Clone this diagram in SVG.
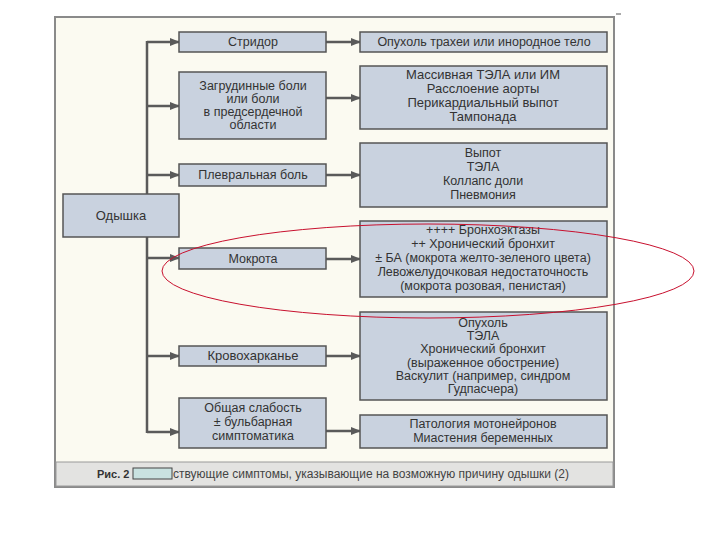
<svg xmlns="http://www.w3.org/2000/svg" width="720" height="540" viewBox="0 0 720 540">
<defs>
<marker id="ah" viewBox="0 0 10 10" refX="9" refY="5" markerWidth="4" markerHeight="4" orient="auto" markerUnits="strokeWidth">
<path d="M0,1 L10,5 L0,9 z" fill="#5a5a5a"/>
</marker>
</defs>
<style>
.box{fill:#c9d2df;stroke:#555;stroke-width:1.5}
.t{font-family:"Liberation Sans",Arial,sans-serif;font-size:12.5px;fill:#333;text-anchor:middle}
.b{font-size:13px}
.c{stroke:#5a5a5a;stroke-width:2.5;fill:none}
.a{stroke:#5a5a5a;stroke-width:2.5;fill:none;marker-end:url(#ah)}
</style>
<rect width="720" height="540" fill="#ffffff"/>
<rect x="55" y="17" width="559" height="470" fill="#fbfaf1" stroke="#8a8a8a" stroke-width="2"/>
<rect x="56" y="462" width="557" height="24" fill="#e3e3e1" stroke="#9a9a9a" stroke-width="1"/>
<line x1="616" y1="14" x2="621" y2="14" stroke="#555" stroke-width="1"/>

<g id="connectors">
<line class="c" x1="147" y1="41" x2="147" y2="433"/>
<line class="a" x1="147" y1="42" x2="179" y2="42"/>
<line class="a" x1="147" y1="106" x2="179" y2="106"/>
<line class="a" x1="147" y1="175" x2="179" y2="175"/>
<line class="a" x1="147" y1="258" x2="179" y2="258"/>
<line class="a" x1="147" y1="356" x2="179" y2="356"/>
<line class="a" x1="147" y1="432" x2="179" y2="432"/>
<line class="a" x1="326" y1="42" x2="360" y2="42"/>
<line class="a" x1="326" y1="98" x2="360" y2="98"/>
<line class="a" x1="326" y1="175" x2="360" y2="175"/>
<line class="a" x1="326" y1="259" x2="360" y2="259"/>
<line class="a" x1="326" y1="356" x2="360" y2="356"/>
<line class="a" x1="326" y1="431" x2="360" y2="431"/>
</g>

<g id="n-odyshka">
<rect class="box" x="63" y="194" width="116" height="43"/>
<text class="t b" x="121" y="220">Одышка</text>
</g>

<g id="n-stridor">
<rect class="box" x="179" y="32" width="147" height="20"/>
<text class="t" x="253" y="46">Стридор</text>
</g>
<g id="n-zagrud">
<rect class="box" x="179" y="72" width="147" height="67"/>
<text class="t" x="253" y="90">Загрудинные боли</text>
<text class="t" x="253" y="103">или боли</text>
<text class="t" x="253" y="116">в предсердечной</text>
<text class="t" x="253" y="129">области</text>
</g>
<g id="n-plevr">
<rect class="box" x="179" y="164" width="147" height="22"/>
<text class="t" x="253" y="179">Плевральная боль</text>
</g>
<g id="n-mokrota">
<rect class="box" x="179" y="248" width="147" height="21"/>
<text class="t" x="253" y="263">Мокрота</text>
</g>
<g id="n-krovo">
<rect class="box" x="179" y="346" width="147" height="20"/>
<text class="t b" x="253" y="360">Кровохарканье</text>
</g>
<g id="n-slab">
<rect class="box" x="179" y="398" width="147" height="50"/>
<text class="t" x="253" y="412">Общая слабость</text>
<text class="t" x="253" y="426">± бульбарная</text>
<text class="t" x="253" y="440">симптоматика</text>
</g>

<g id="r-opuhol">
<rect class="box" x="360" y="32" width="247" height="20"/>
<text class="t" x="484" y="46">Опухоль трахеи или инородное тело</text>
</g>
<g id="r-massiv">
<rect class="box" x="360" y="66" width="247" height="63"/>
<text class="t b" x="483" y="79">Массивная ТЭЛА или ИМ</text>
<text class="t b" x="483" y="93">Расслоение аорты</text>
<text class="t b" x="483" y="107">Перикардиальный выпот</text>
<text class="t b" x="483" y="121">Тампонада</text>
</g>
<g id="r-vypot">
<rect class="box" x="360" y="143" width="247" height="64"/>
<text class="t" x="483" y="157">Выпот</text>
<text class="t" x="483" y="171">ТЭЛА</text>
<text class="t" x="483" y="185">Коллапс доли</text>
<text class="t" x="483" y="199">Пневмония</text>
</g>
<g id="r-bronh">
<rect class="box" x="360" y="221" width="247" height="76"/>
<text class="t" x="483" y="234">++++ Бронхоэктазы</text>
<text class="t" x="483" y="248">++ Хронический бронхит</text>
<text class="t" x="483" y="262">± БА (мокрота желто-зеленого цвета)</text>
<text class="t" x="483" y="276">Левожелудочковая недостаточность</text>
<text class="t" x="483" y="290">(мокрота розовая, пенистая)</text>
</g>
<g id="r-tela">
<rect class="box" x="360" y="312" width="247" height="88"/>
<text class="t" x="483" y="327">Опухоль</text>
<text class="t" x="483" y="340">ТЭЛА</text>
<text class="t" x="483" y="353">Хронический бронхит</text>
<text class="t" x="483" y="367">(выраженное обострение)</text>
<text class="t" x="483" y="380">Васкулит (например, синдром</text>
<text class="t" x="483" y="393">Гудпасчера)</text>
</g>
<g id="r-pat">
<rect class="box" x="360" y="415" width="247" height="33"/>
<text class="t" x="483" y="428">Патология мотонейронов</text>
<text class="t" x="483" y="442">Миастения беременных</text>
</g>

<g id="caption">
<text x="97" y="478" font-family="Liberation Sans,Arial,sans-serif" font-size="11" font-weight="bold" fill="#333">Рис. 2</text>
<rect x="133" y="468" width="39" height="11" fill="#c9e2e0" stroke="#444" stroke-width="1"/>
<text x="173" y="478" font-family="Liberation Sans,Arial,sans-serif" font-size="12" fill="#444">ствующие симптомы, указывающие на возможную причину одышки (2)</text>
</g>

<ellipse cx="428" cy="271" rx="266" ry="47" fill="none" stroke="#c8102e" stroke-width="1"/>
</svg>
